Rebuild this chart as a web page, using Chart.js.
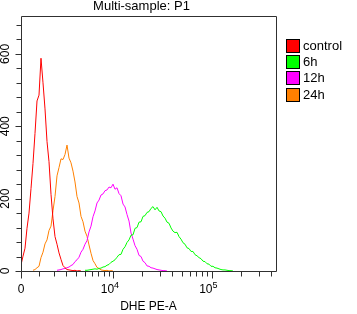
<!DOCTYPE html>
<html><head><meta charset="utf-8">
<script src="https://cdn.jsdelivr.net/npm/chart.js@4"></script>
<style>html,body{margin:0;padding:0;background:#fff}canvas{display:block}</style>
</head><body>
<canvas id="c" width="357" height="314"></canvas>
<script>
const chartTitle = 'Multi-sample: P1';
const xAxisTitle = 'DHE PE-A';
const seriesNames = ['control', '6h', '12h', '24h'];
const seriesColors = ['#ff0000', '#00ff00', '#ff00ff', '#ff8000'];

// histogram bin centres (fluorescence, PE-A)
const binValues = [0,111,222,333,446,559,673,789,907,1027,
1148,1273,1400,1530,1663,1800,1941,2086,2236,2390,
2550,2715,2886,3063,3247,3438,3636,3843,4057,4280,
4513,4755,5008,5272,5546,5833,6133,6446,6772,7114,
7471,7844,8234,8641,9068,9514,9980,10469,10979,11514,
12074,12660,13273,13915,14587,15290,16027,16798,17606,18452,
19338,20265,21237,22254,23320,24436,25605,26830,28112,29455,
30862,32336,33880,35497,37192,38966,40825,42772,44812,46949,
49187,51530,53984,56555,59248,62069,65025,68121,71365,74763,
78323,82053,85960,90053,94341,98833,103539,108470,113635,119046,
124715,130654,136875,143393,150221,157374,164868,172719,180944];

const _ = null;
const controlCounts = [17,41,63,118,160,228,297,380,470,486,
588,520,448,358,302,212,144,95,74,50,
32,15,9,4,3,2,1,2,0,1,
0,_,_,_,_,_,_,_,_,_,
_,_,_,_,_,_,_,_,_,_,_,_,_,_,_,_,_,_,_,_,
_,_,_,_,_,_,_,_,_,_,_,_,_,_,_,_,_,_,_,_,
_,_,_,_,_,_,_,_,_,_,_,_,_,_,_,_,_,_,_,_,
_,_,_,_,_,_,_,_,_];
const h6Counts = [_,_,_,_,_,_,_,_,_,_,
_,_,_,_,_,_,_,_,_,_,
_,_,_,_,_,_,_,_,_,_,
_,_,2,2,3,4,5,6,5,7,
8,11,12,16,18,24,27,31,38,45,
46,60,67,79,86,99,100,118,120,135,
136,151,153,162,164,173,178,169,176,166,
164,152,146,135,132,119,110,106,107,95,
88,78,74,64,62,54,54,45,42,37,
34,27,26,20,19,13,13,9,8,6,
4,3,3,2,1,1,0,_,_];
const h12Counts = [_,_,_,_,_,_,_,_,_,_,
_,_,_,_,_,_,_,_,2,3,
4,6,7,9,11,15,18,26,31,38,
52,60,74,84,108,124,150,166,188,196,
210,213,222,224,232,230,240,226,230,214,
208,185,177,156,138,105,88,70,60,43,
40,27,23,14,13,9,8,6,4,3,
2,1,1,0,_,_,_,_,_,_,
_,_,_,_,_,_,_,_,_,_,_,_,_,_,_,_,_,_,_,_,
_,_,_,_,_,_,_,_,_];
const h24Counts = [_,_,_,_,_,_,2,4,9,13,
37,52,75,86,112,124,167,206,263,286,
310,308,322,348,312,299,276,246,206,188,
151,136,110,96,72,49,29,20,10,7,
3,2,1,2,0,1,0,_,_,_,
_,_,_,_,_,_,_,_,_,_,_,_,_,_,_,_,_,_,_,_,
_,_,_,_,_,_,_,_,_,_,_,_,_,_,_,_,_,_,_,_,
_,_,_,_,_,_,_,_,_,_,_,_,_,_,_,_,_,_,_,_,
_,_,_,_,_,_,_,_,_];
const seriesCounts = [controlCounts, h6Counts, h12Counts, h24Counts];

const xMin = 0, xMax = 448000;
const yMin = 0, yMax = 702;
const xMajorTicks = [0, 10000, 100000];
const xMajorLabels = [['0', ''], ['10', '4'], ['10', '5']];
const xMinorTicks = [1000,2000,3000,4000,5000,6000,7000,8000,9000,
  20000,30000,40000,50000,60000,70000,80000,90000,200000,300000,400000];
const yMajorTicks = [0, 200, 400, 600];
const yMajorLabels = ['0', '200', '400', '600'];
const yMinorTicks = [40,80,120,160,240,280,320,360,440,480,520,560,640,680];

// biexponential-like display transform
const BIEX_W = 1191;
const biex = v => Math.asinh(v / (2 * BIEX_W));
class BiexScale extends Chart.Scale {
  static id = 'biex';
  static defaults = {};
  determineDataLimits() { this.min = this.options.min; this.max = this.options.max; }
  buildTicks() { return xMajorTicks.map(v => ({ value: v })); }
  getLabelForValue(v) { return String(v); }
  configure() { super.configure(); this._t0 = biex(this.min); this._t1 = biex(this.max); }
  getPixelForValue(v) { return this.getPixelForDecimal((biex(v) - this._t0) / (this._t1 - this._t0)); }
  getValueForPixel(p) {
    const d = this.getDecimalForPixel(p);
    return 2 * BIEX_W * Math.sinh(this._t0 + d * (this._t1 - this._t0));
  }
}
Chart.register(BiexScale);

const FONT = '"Liberation Sans", Arial, sans-serif';
const decor = {
  id: 'decor',
  afterDraw(chart) {
    const ctx = chart.ctx, a = chart.chartArea, xs = chart.scales.x, ys = chart.scales.y;
    ctx.save();
    ctx.strokeStyle = '#303030';
    ctx.lineWidth = 1;
    ctx.beginPath();
    ctx.moveTo(a.left + 0.5, a.top - 0.5); ctx.lineTo(a.right + 0.5, a.top - 0.5);
    ctx.lineTo(a.right + 0.5, a.bottom + 0.5); ctx.lineTo(a.left + 0.5, a.bottom + 0.5);
    ctx.closePath();
    ctx.stroke();
    // x ticks
    ctx.beginPath();
    xMajorTicks.forEach(v => { const px = Math.round(xs.getPixelForValue(v)) + 0.5; ctx.moveTo(px, a.bottom + 0.5); ctx.lineTo(px, a.bottom + 7.5); });
    xMinorTicks.forEach(v => { const px = Math.round(xs.getPixelForValue(v)) + 0.5; ctx.moveTo(px, a.bottom + 0.5); ctx.lineTo(px, a.bottom + 5.5); });
    // y ticks
    yMajorTicks.forEach(v => { const py = Math.round(ys.getPixelForValue(v)) + 0.5; ctx.moveTo(a.left + 0.5, py); ctx.lineTo(a.left - 5.5, py); });
    yMinorTicks.forEach(v => { const py = Math.round(ys.getPixelForValue(v)) + 0.5; ctx.moveTo(a.left + 0.5, py); ctx.lineTo(a.left - 4.5, py); });
    ctx.stroke();

    ctx.fillStyle = '#000';
    // x labels
    xMajorTicks.forEach((v, i) => {
      const px = xs.getPixelForValue(v);
      const [base, sup] = xMajorLabels[i];
      ctx.font = '12px ' + FONT;
      ctx.textBaseline = 'alphabetic';
      if (!sup) { ctx.textAlign = 'center'; ctx.fillText(base, px, 293); }
      else {
        ctx.textAlign = 'right'; ctx.fillText(base, px + 1, 293);
        ctx.font = '9px ' + FONT; ctx.textAlign = 'left'; ctx.fillText(sup, px + 1, 288);
      }
    });
    // y labels, rotated
    ctx.font = '12px ' + FONT;
    yMajorTicks.forEach((v, i) => {
      const py = ys.getPixelForValue(v);
      ctx.save(); ctx.translate(9, py); ctx.rotate(-Math.PI / 2);
      ctx.textAlign = 'center'; ctx.textBaseline = 'alphabetic';
      ctx.fillText(yMajorLabels[i], 0, 0); ctx.restore();
    });
    // axis title
    ctx.font = '12px ' + FONT; ctx.textAlign = 'center'; ctx.textBaseline = 'alphabetic';
    ctx.fillText(xAxisTitle, (a.left + a.right) / 2, 310);
    // chart title
    ctx.font = '13px ' + FONT;
    ctx.fillText(chartTitle, 141.5, 10);
    // legend
    seriesNames.forEach((name, i) => {
      const top = Math.round(39.5 + 16.4 * i);
      ctx.fillStyle = seriesColors[i];
      ctx.fillRect(287, top, 12, 12);
      ctx.strokeStyle = '#000';
      ctx.strokeRect(286.5, top - 0.5, 13, 13);
      ctx.fillStyle = '#000';
      ctx.font = '13px ' + FONT; ctx.textAlign = 'left'; ctx.textBaseline = 'middle';
      ctx.fillText(name, 303, top + 6.5);
    });
    ctx.restore();
  }
};

new Chart(document.getElementById('c'), {
  type: 'line',
  data: {
    datasets: seriesNames.map((name, i) => ({
      label: name,
      data: binValues.map((x, k) => ({ x: x, y: seriesCounts[i][k] })),
      borderColor: seriesColors[i],
      borderWidth: 1,
      pointRadius: 0,
      tension: 0,
      fill: false
    }))
  },
  options: {
    responsive: false,
    animation: false,
    devicePixelRatio: 1,
    events: [],
    layout: { padding: { left: 21, right: 81, top: 17, bottom: 43 } },
    scales: {
      x: { type: 'biex', min: xMin, max: xMax, display: false },
      y: { type: 'linear', min: yMin, max: yMax, display: false }
    },
    plugins: { legend: { display: false }, tooltip: { enabled: false }, title: { display: false } }
  },
  plugins: [decor]
});
</script>
</body></html>
